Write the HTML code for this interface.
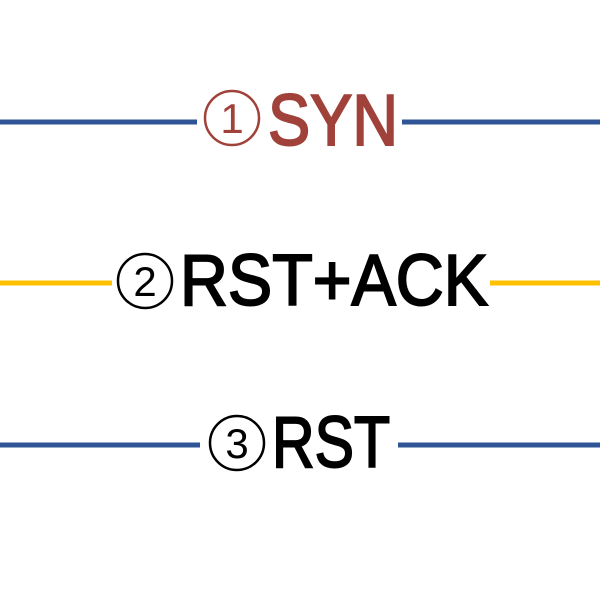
<!DOCTYPE html>
<html><head><meta charset="utf-8"><style>
html,body{margin:0;padding:0;background:#fff;width:600px;height:600px;overflow:hidden}
svg{display:block}
text{font-family:"Liberation Sans",sans-serif}
</style></head><body>
<svg width="600" height="600" viewBox="0 0 600 600">
<line x1="0" y1="122" x2="197" y2="122" stroke="#2f5597" stroke-width="5"/>
<line x1="402" y1="122" x2="600" y2="122" stroke="#2f5597" stroke-width="5"/>
<circle cx="232" cy="118" r="27" fill="none" stroke="#a0413a" stroke-width="2.5"/>
<text x="232" y="133" font-size="42" fill="#a0413a" text-anchor="middle">1</text>
<text x="268" y="145" font-size="72" fill="#a0413a" textLength="130" lengthAdjust="spacingAndGlyphs" stroke="#a0413a" stroke-width="2">SYN</text>
<line x1="0" y1="283" x2="112" y2="283" stroke="#ffc000" stroke-width="5"/>
<line x1="490" y1="283" x2="600" y2="283" stroke="#ffc000" stroke-width="5"/>
<circle cx="145" cy="281" r="27" fill="none" stroke="#000" stroke-width="2.5"/>
<text x="145" y="296" font-size="42" fill="#000" text-anchor="middle">2</text>
<text x="180" y="305" font-size="72" fill="#000" textLength="308" lengthAdjust="spacingAndGlyphs" stroke="#000" stroke-width="2">RST+ACK</text>
<line x1="0" y1="445" x2="200" y2="445" stroke="#2f5597" stroke-width="5"/>
<line x1="398" y1="445" x2="600" y2="445" stroke="#2f5597" stroke-width="5"/>
<circle cx="237" cy="443" r="27" fill="none" stroke="#000" stroke-width="2.5"/>
<text x="237" y="458" font-size="42" fill="#000" text-anchor="middle">3</text>
<text x="272" y="467" font-size="72" fill="#000" textLength="118" lengthAdjust="spacingAndGlyphs" stroke="#000" stroke-width="2">RST</text>
</svg>
</body></html>
